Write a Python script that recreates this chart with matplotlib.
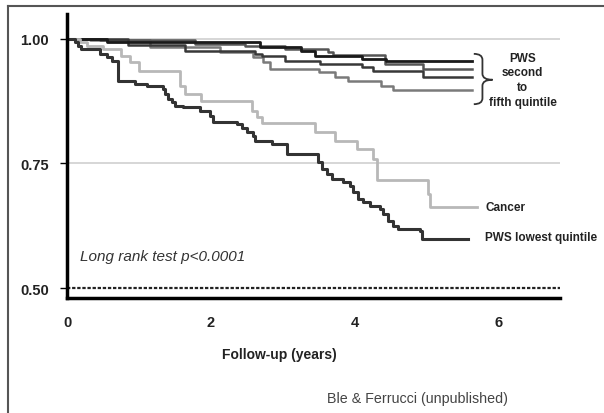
import matplotlib
matplotlib.use("Agg")
import matplotlib.pyplot as plt
from matplotlib.lines import Line2D
from matplotlib.path import Path
from matplotlib.patches import PathPatch

plt.rcParams['font.family'] = ['Liberation Sans', 'DejaVu Sans']

# Kaplan-Meier step curves (time in years, survival after each event)
low_t = [0, 0.11, 0.15, 0.19, 0.46, 0.56, 0.63, 0.71, 0.94, 1.11, 1.33, 1.36, 1.40, 1.46,
         1.50, 1.61, 1.85, 1.99, 2.03, 2.36, 2.43, 2.50, 2.58, 2.61, 2.85, 3.06, 3.49, 3.54,
         3.61, 3.68, 3.83, 3.93, 3.97, 4.04, 4.11, 4.21, 4.35, 4.39, 4.46, 4.53, 4.60, 4.90,
         4.93, 5.57]
low_s = [1.0, 0.994, 0.986, 0.980, 0.970, 0.964, 0.956, 0.916, 0.910, 0.906, 0.900, 0.890,
         0.880, 0.873, 0.865, 0.863, 0.855, 0.845, 0.833, 0.829, 0.821, 0.813, 0.805, 0.795,
         0.789, 0.769, 0.753, 0.739, 0.729, 0.719, 0.713, 0.705, 0.693, 0.679, 0.673, 0.665,
         0.659, 0.649, 0.635, 0.625, 0.618, 0.614, 0.598, 0.598]

cancer_t = [0, 0.18, 0.28, 0.50, 0.75, 0.875, 1.0, 1.57, 1.64, 1.86, 2.57, 2.64, 2.71, 3.44,
            3.72, 4.03, 4.25, 4.31, 5.01, 5.04, 5.69]
cancer_s = [1.0, 0.994, 0.986, 0.980, 0.966, 0.954, 0.936, 0.906, 0.890, 0.876, 0.855, 0.843,
            0.831, 0.813, 0.795, 0.779, 0.759, 0.717, 0.689, 0.663, 0.663]

q_a_t = [0, 0.55, 2.68, 3.25, 3.45, 4.10, 4.43, 5.63]
q_a_s = [1.0, 0.994, 0.984, 0.976, 0.966, 0.960, 0.956, 0.956]

q_b_t = [0, 0.85, 1.64, 2.61, 2.71, 3.03, 3.51, 4.10, 4.25, 4.94, 5.63]
q_b_s = [1.0, 0.988, 0.976, 0.970, 0.966, 0.956, 0.950, 0.944, 0.936, 0.924, 0.924]

q_c_t = [0, 0.46, 1.78, 2.47, 3.03, 3.63, 3.70, 4.42, 4.94, 5.63]
q_c_s = [1.0, 0.997, 0.990, 0.986, 0.980, 0.974, 0.968, 0.950, 0.940, 0.940]

q_d_t = [0, 0.32, 1.15, 2.12, 2.58, 2.72, 2.82, 3.50, 3.72, 3.90, 4.36, 4.53, 5.63]
q_d_s = [1.0, 0.998, 0.984, 0.974, 0.964, 0.954, 0.940, 0.934, 0.924, 0.916, 0.906, 0.898, 0.898]

xticks = [0, 2, 4, 6]
yticks = [0.50, 0.75, 1.00]

fig = plt.figure(figsize=(6.04, 4.14), dpi=100)
ax = fig.add_axes([67/604, 115/414, 493/604, 284/414])
ax.set_xlim(0, 493/72)
ax.set_ylim(0.48, 1.05)

ax.axhline(1.0, color='#d0d0d0', lw=1.2, xmax=496/493)
ax.axhline(0.75, color='#d0d0d0', lw=1.2, xmax=496/493)
ax.axhline(0.50, color='#222222', lw=1.6, ls=(0, (1.5, 0.8)), xmax=496/493)

ax.step(q_d_t, q_d_s, where='post', color='#7a7a7a', lw=1.8)
ax.step(q_c_t, q_c_s, where='post', color='#555555', lw=1.8)
ax.step(q_b_t, q_b_s, where='post', color='#383838', lw=1.8)
ax.step(q_a_t, q_a_s, where='post', color='#1a1a1a', lw=2.0)
ax.step(cancer_t, cancer_s, where='post', color='#b8b8b8', lw=2.0)
ax.step(low_t, low_s, where='post', color='#333333', lw=2.2)

ax.spines['top'].set_visible(False)
ax.spines['right'].set_visible(False)
ax.spines['left'].set_linewidth(2.5)
ax.spines['bottom'].set_linewidth(2.5)
ax.set_xticks(xticks)
ax.set_xticklabels([str(v) for v in xticks], fontsize=10.5, fontweight='bold', color='#222222')
ax.set_yticks(yticks)
ax.set_yticklabels(['%.2f' % v for v in yticks], fontsize=10.5, fontweight='bold', color='#222222')
ax.tick_params(axis='x', length=0, pad=12)
ax.tick_params(axis='y', length=5, width=1, pad=8)

ax.text(0.18, 0.564, 'Long rank test p<0.0001', fontsize=11, style='italic', color='#333333',
        va='center', ha='left')
ax.text(5.81, 0.663, 'Cancer', fontsize=8.5, fontweight='bold', color='#222222', va='center')
ax.text(5.81, 0.602, 'PWS lowest quintile', fontsize=8.5, fontweight='bold', color='#222222',
        va='center', clip_on=False)
ax.text(6.33, 0.918, 'PWS\nsecond\nto\nfifth quintile', fontsize=8.5, fontweight='bold',
        color='#222222', ha='center', va='center', linespacing=1.3)

# curly brace grouping the four upper curves
b0, bm, b1 = 5.65, 5.77, 5.91
btop, bmid, bbot, d = 0.970, 0.918, 0.869, 0.012
brace = Path([(b0, btop), (bm, btop), (bm, btop - d),
              (bm, bmid + d), (bm, bmid), (b1, bmid),
              (bm, bmid), (bm, bmid - d),
              (bm, bbot + d), (bm, bbot), (b0, bbot)],
             [Path.MOVETO, Path.CURVE3, Path.CURVE3,
              Path.LINETO, Path.CURVE3, Path.CURVE3,
              Path.CURVE3, Path.CURVE3,
              Path.LINETO, Path.CURVE3, Path.CURVE3])
ax.add_patch(PathPatch(brace, fill=False, edgecolor='#333333', lw=1.3, clip_on=False))

fig.text(279/604, 1 - 355/414, 'Follow-up (years)', fontsize=10, fontweight='bold',
         color='#222222', ha='center', va='center')
fig.text(508/604, 1 - 399/414, 'Ble & Ferrucci (unpublished)', fontsize=10.3, color='#444444',
         ha='right', va='center')

fig.add_artist(Line2D([8/604, 8/604], [0, 1 - 7/414], color='#555555', lw=1.5))
fig.add_artist(Line2D([8/604, 1], [1 - 7/414, 1 - 7/414], color='#555555', lw=1.5))

fig.savefig('out.png', dpi=100)
